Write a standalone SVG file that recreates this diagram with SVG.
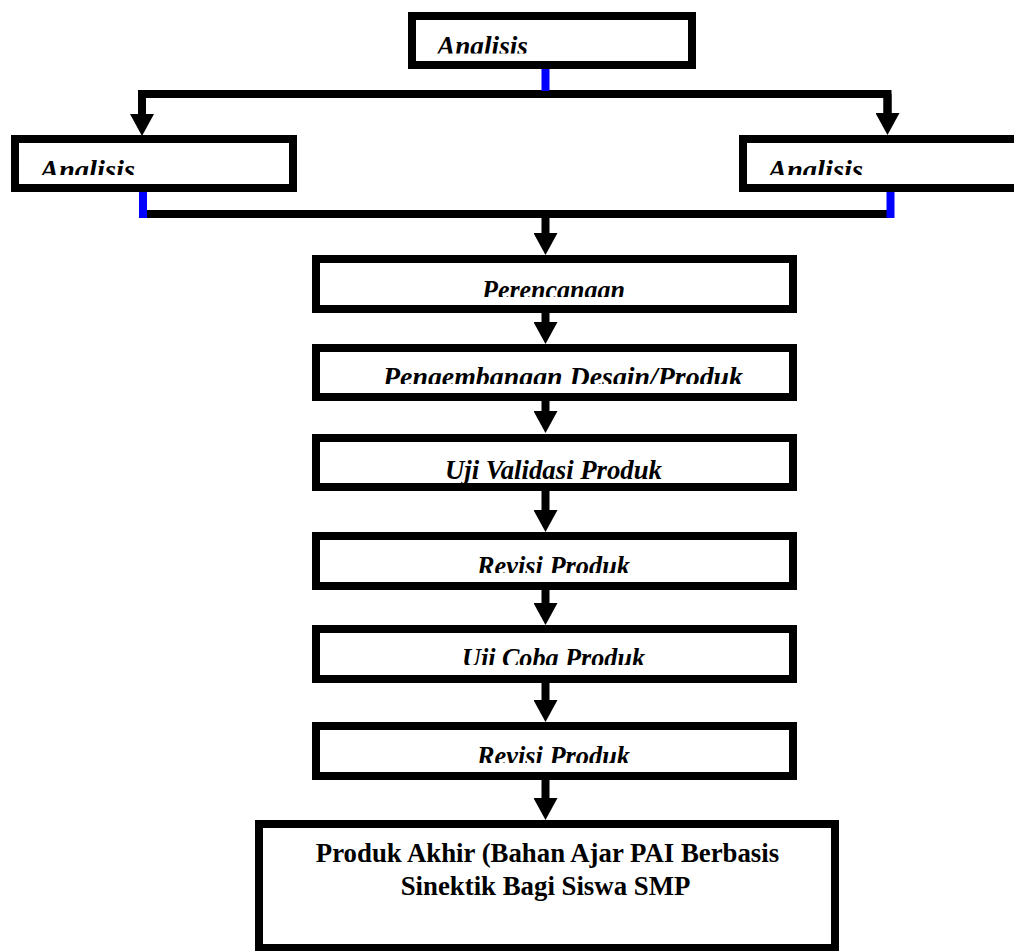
<svg xmlns="http://www.w3.org/2000/svg" width="1014" height="951" viewBox="0 0 1014 951">
<style>
.box{fill:#fff;stroke:#000;stroke-width:8}
.ln{fill:none;stroke:#000;stroke-width:8;stroke-linejoin:miter}
.bl{fill:none;stroke:#0000ff;stroke-width:8}
</style>
<defs>
<marker id="ah" markerUnits="userSpaceOnUse" viewBox="0 0 22 24" markerWidth="22" markerHeight="24" refX="0" refY="12" orient="auto"><path d="M0,0 L22,12 L0,24 z" fill="#000"/></marker>
<clipPath id="c0"><rect x="412" y="20" width="280" height="33.5"/></clipPath>
<clipPath id="c1"><rect x="15" y="143" width="278" height="32"/></clipPath>
<clipPath id="c2"><rect x="743" y="143" width="278" height="32"/></clipPath>
<clipPath id="c3"><rect x="316" y="263" width="477" height="34"/></clipPath>
<clipPath id="c4"><rect x="316" y="352" width="477" height="32"/></clipPath>
<clipPath id="c5"><rect x="316" y="442" width="477" height="41"/></clipPath>
<clipPath id="c6"><rect x="316" y="540" width="477" height="33"/></clipPath>
<clipPath id="c7"><rect x="316" y="633" width="477" height="32"/></clipPath>
<clipPath id="c8"><rect x="316" y="730" width="477" height="33"/></clipPath>
</defs>
<g id="connectors">
<path class="ln" d="M142,115 V94 H887.5 V114" />
<line x1="142" y1="94" x2="142" y2="114" class="ln" marker-end="url(#ah)"/>
<line x1="887.5" y1="94" x2="887.5" y2="113" class="ln" marker-end="url(#ah)"/>
<line x1="545.5" y1="66" x2="545.5" y2="91" class="bl" stroke-width="7"/>
<line x1="147" y1="214" x2="887" y2="214" class="ln"/>
<line x1="143" y1="188" x2="143" y2="218" class="bl"/>
<line x1="890.5" y1="188" x2="890.5" y2="218" class="bl" stroke-width="7"/>
<line x1="545.5" y1="214" x2="545.5" y2="233" class="ln" marker-end="url(#ah)"/>
<line x1="545.5" y1="313" x2="545.5" y2="322" class="ln" marker-end="url(#ah)"/>
<line x1="545.5" y1="401" x2="545.5" y2="411" class="ln" marker-end="url(#ah)"/>
<line x1="545.5" y1="491" x2="545.5" y2="510" class="ln" marker-end="url(#ah)"/>
<line x1="545.5" y1="590" x2="545.5" y2="603" class="ln" marker-end="url(#ah)"/>
<line x1="545.5" y1="683" x2="545.5" y2="700" class="ln" marker-end="url(#ah)"/>
<line x1="545.5" y1="780" x2="545.5" y2="798" class="ln" marker-end="url(#ah)"/>
</g>
<g font-family="Liberation Serif, DejaVu Serif, serif" font-weight="bold" font-style="italic" font-size="26.5" fill="#000">
<g id="n-analisis-top">
<rect class="box" x="412" y="16" width="280" height="49"/>
<text x="437" y="54.5" textLength="91" lengthAdjust="spacingAndGlyphs" clip-path="url(#c0)">Analisis</text>
</g>
<g id="n-analisis-left">
<rect class="box" x="15" y="139" width="278" height="49"/>
<text x="40" y="179" textLength="95" lengthAdjust="spacingAndGlyphs" clip-path="url(#c1)">Analisis</text>
</g>
<g id="n-analisis-right">
<rect class="box" x="743" y="139" width="300" height="49"/>
<text x="768" y="179" textLength="95" lengthAdjust="spacingAndGlyphs" clip-path="url(#c2)">Analisis</text>
</g>
<g id="n-perencanaan">
<rect class="box" x="316" y="259" width="477" height="50"/>
<text x="482" y="299" textLength="143" lengthAdjust="spacingAndGlyphs" clip-path="url(#c3)">Perencanaan</text>
</g>
<g id="n-pengembangan">
<rect class="box" x="316" y="348" width="477" height="49"/>
<text x="383" y="386" textLength="360" lengthAdjust="spacingAndGlyphs" clip-path="url(#c4)">Pengembangan Desain/Produk</text>
</g>
<g id="n-uji-validasi">
<rect class="box" x="316" y="438" width="477" height="49"/>
<text x="445" y="479" textLength="217" lengthAdjust="spacingAndGlyphs" clip-path="url(#c5)">Uji Validasi Produk</text>
</g>
<g id="n-revisi-1">
<rect class="box" x="316" y="536" width="477" height="50"/>
<text x="477" y="575" textLength="153" lengthAdjust="spacingAndGlyphs" clip-path="url(#c6)">Revisi Produk</text>
</g>
<g id="n-uji-coba">
<rect class="box" x="316" y="629" width="477" height="50"/>
<text x="462" y="667" textLength="183" lengthAdjust="spacingAndGlyphs" clip-path="url(#c7)">Uji Coba Produk</text>
</g>
<g id="n-revisi-2">
<rect class="box" x="316" y="726" width="477" height="50"/>
<text x="477" y="765" textLength="153" lengthAdjust="spacingAndGlyphs" clip-path="url(#c8)">Revisi Produk</text>
</g>
<g id="n-produk-akhir" font-style="normal" font-size="26.8" text-anchor="middle">
<rect class="box" x="259" y="824" width="576" height="124"/>
<text x="547.5" y="862">Produk Akhir (Bahan Ajar PAI Berbasis</text>
<text x="545.5" y="895">Sinektik Bagi Siswa SMP</text>
</g>
</g>
</svg>
